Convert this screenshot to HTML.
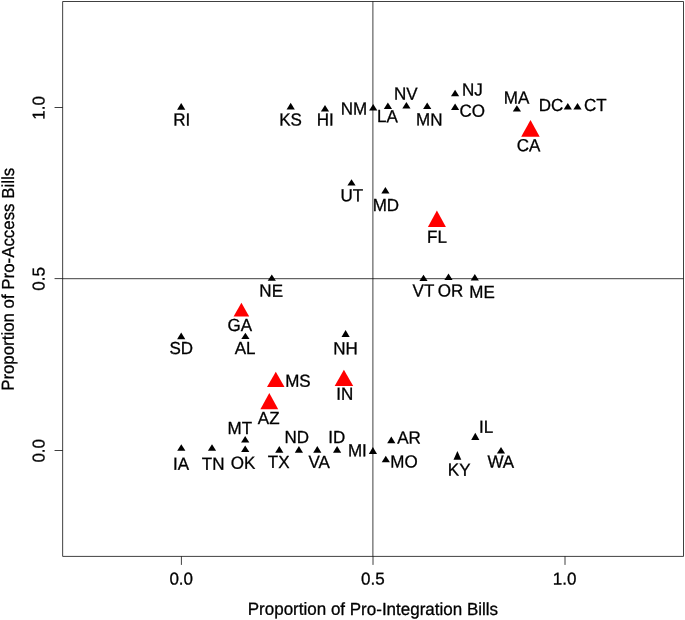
<!DOCTYPE html>
<html><head><meta charset="utf-8"><title>Plot</title>
<style>html,body{margin:0;padding:0;background:#fff}svg{display:block}text{font-family:"Liberation Sans",sans-serif;font-size:17.0px;fill:#000;stroke:#000;stroke-width:0.3px;stroke-linejoin:round}</style></head>
<body>
<svg width="685" height="620" viewBox="0 0 685 620">
<rect x="0" y="0" width="685" height="620" fill="#fff"/>
<g stroke="#000" stroke-width="0.75" fill="none" stroke-linejoin="round" stroke-linecap="butt">
<rect x="62.65" y="1.5" width="620.85" height="554.9"/>
<line x1="62.65" y1="278.7" x2="683.5" y2="278.7"/>
<line x1="372.9" y1="1.5" x2="372.9" y2="556.4"/>
<line x1="181.4" y1="556.4" x2="181.4" y2="564.9"/>
<line x1="373.0" y1="556.4" x2="373.0" y2="564.9"/>
<line x1="565.0" y1="556.4" x2="565.0" y2="564.9"/>
<line x1="54.55" y1="107.5" x2="62.65" y2="107.5"/>
<line x1="54.55" y1="278.6" x2="62.65" y2="278.6"/>
<line x1="54.55" y1="450.5" x2="62.65" y2="450.5"/>
</g>
<g fill="#000">
<polygon points="181.2,103.1 185.3,109.8 177.1,109.8"/>
<polygon points="290.7,102.8 294.8,109.5 286.6,109.5"/>
<polygon points="325.0,105.1 329.1,111.5 320.9,111.5"/>
<polygon points="373.2,104.1 377.3,110.6 369.1,110.6"/>
<polygon points="387.9,102.6 392.0,108.9 383.8,108.9"/>
<polygon points="406.4,102.0 410.5,108.5 402.3,108.5"/>
<polygon points="427.2,102.4 431.3,108.9 423.1,108.9"/>
<polygon points="455.1,89.7 459.2,96.2 451.0,96.2"/>
<polygon points="455.1,103.4 459.2,109.9 451.0,109.9"/>
<polygon points="516.9,105.3 521.0,111.5 512.8,111.5"/>
<polygon points="567.8,103.1 571.9,109.4 563.7,109.4"/>
<polygon points="577.5,102.9 581.6,109.4 573.4,109.4"/>
<polygon points="351.5,179.2 355.6,185.6 347.4,185.6"/>
<polygon points="385.4,187.1 389.5,193.5 381.3,193.5"/>
<polygon points="271.8,274.5 275.9,280.8 267.7,280.8"/>
<polygon points="423.5,274.7 427.6,281.0 419.4,281.0"/>
<polygon points="448.5,273.4 452.6,280.0 444.4,280.0"/>
<polygon points="474.8,274.1 478.9,280.6 470.7,280.6"/>
<polygon points="181.2,332.6 185.3,339.3 177.1,339.3"/>
<polygon points="245.4,332.8 249.5,339.0 241.3,339.0"/>
<polygon points="345.6,330.1 349.7,337.0 341.5,337.0"/>
<polygon points="181.3,444.3 185.4,450.8 177.2,450.8"/>
<polygon points="212.0,444.3 216.1,450.8 207.9,450.8"/>
<polygon points="245.2,436.1 249.3,442.6 241.1,442.6"/>
<polygon points="245.2,445.4 249.3,451.9 241.1,451.9"/>
<polygon points="279.3,446.1 283.4,452.8 275.2,452.8"/>
<polygon points="298.9,446.1 303.0,452.8 294.8,452.8"/>
<polygon points="317.3,446.1 321.4,452.8 313.2,452.8"/>
<polygon points="337.1,446.1 341.2,452.8 333.0,452.8"/>
<polygon points="372.9,447.1 377.0,454.0 368.8,454.0"/>
<polygon points="391.3,436.6 395.4,443.2 387.2,443.2"/>
<polygon points="385.8,455.7 389.9,462.3 381.7,462.3"/>
<polygon points="475.3,432.7 479.4,440.0 471.2,440.0"/>
<polygon points="501.0,447.0 505.1,453.6 496.9,453.6"/>
<polygon points="457.4,451.0 461.3,459.8 453.5,459.8"/>
</g>
<g fill="#ff0000">
<polygon points="530.5,119.9 539.7,136.7 521.2,136.7"/>
<polygon points="436.9,210.6 445.9,226.9 427.9,226.9"/>
<polygon points="241.4,302.8 249.2,316.6 233.6,316.6"/>
<polygon points="275.8,371.8 284.5,387.1 267.0,387.1"/>
<polygon points="269.3,393.0 278.2,409.3 260.4,409.3"/>
<polygon points="343.9,369.8 353.2,386.0 334.7,386.0"/>
</g>
<g>
<text transform="translate(173.34,125.42) rotate(0.05) scale(1,1.03)">RI</text>
<text transform="translate(279.20,125.38) rotate(0.05) scale(1,1.03)">KS</text>
<text transform="translate(316.84,125.57) rotate(0.05) scale(1,1.03)">HI</text>
<text transform="translate(340.83,114.42) rotate(0.05) scale(1,1.03)">NM</text>
<text transform="translate(377.02,122.12) rotate(0.05) scale(1,1.03)">LA</text>
<text transform="translate(393.93,99.62) rotate(0.05) scale(1,1.03)">NV</text>
<text transform="translate(416.03,125.37) rotate(0.05) scale(1,1.03)">MN</text>
<text transform="translate(461.95,95.44) rotate(0.05) scale(1,1.03)">NJ</text>
<text transform="translate(459.38,116.78) rotate(0.05) scale(1,1.03)">CO</text>
<text transform="translate(503.82,103.57) rotate(0.05) scale(1,1.03)">MA</text>
<text transform="translate(538.70,110.98) rotate(0.05) scale(1,1.03)">DC</text>
<text transform="translate(583.98,110.98) rotate(0.05) scale(1,1.03)">CT</text>
<text transform="translate(516.78,151.28) rotate(0.05) scale(1,1.03)">CA</text>
<text transform="translate(340.51,201.34) rotate(0.05) scale(1,1.03)">UT</text>
<text transform="translate(372.64,210.97) rotate(0.05) scale(1,1.03)">MD</text>
<text transform="translate(427.07,242.82) rotate(0.05) scale(1,1.03)">FL</text>
<text transform="translate(259.36,296.62) rotate(0.05) scale(1,1.03)">NE</text>
<text transform="translate(412.60,296.42) rotate(0.05) scale(1,1.03)">VT</text>
<text transform="translate(437.84,296.38) rotate(0.05) scale(1,1.03)">OR</text>
<text transform="translate(469.37,297.87) rotate(0.05) scale(1,1.03)">ME</text>
<text transform="translate(227.46,330.98) rotate(0.05) scale(1,1.03)">GA</text>
<text transform="translate(169.46,353.98) rotate(0.05) scale(1,1.03)">SD</text>
<text transform="translate(234.77,353.97) rotate(0.05) scale(1,1.03)">AL</text>
<text transform="translate(333.32,354.17) rotate(0.05) scale(1,1.03)">NH</text>
<text transform="translate(285.14,386.63) rotate(0.05) scale(1,1.03)">MS</text>
<text transform="translate(336.16,399.82) rotate(0.05) scale(1,1.03)">IN</text>
<text transform="translate(257.84,424.07) rotate(0.05) scale(1,1.03)">AZ</text>
<text transform="translate(227.58,433.97) rotate(0.05) scale(1,1.03)">MT</text>
<text transform="translate(173.10,469.67) rotate(0.05) scale(1,1.03)">IA</text>
<text transform="translate(201.77,469.67) rotate(0.05) scale(1,1.03)">TN</text>
<text transform="translate(230.86,468.83) rotate(0.05) scale(1,1.03)">OK</text>
<text transform="translate(267.83,467.87) rotate(0.05) scale(1,1.03)">TX</text>
<text transform="translate(284.48,442.97) rotate(0.05) scale(1,1.03)">ND</text>
<text transform="translate(308.44,467.87) rotate(0.05) scale(1,1.03)">VA</text>
<text transform="translate(328.27,442.97) rotate(0.05) scale(1,1.03)">ID</text>
<text transform="translate(347.90,456.17) rotate(0.05) scale(1,1.03)">MI</text>
<text transform="translate(397.22,443.57) rotate(0.05) scale(1,1.03)">AR</text>
<text transform="translate(390.32,467.43) rotate(0.05) scale(1,1.03)">MO</text>
<text transform="translate(478.91,432.72) rotate(0.05) scale(1,1.03)">IL</text>
<text transform="translate(447.85,475.62) rotate(0.05) scale(1,1.03)">KY</text>
<text transform="translate(487.39,467.62) rotate(0.05) scale(1,1.03)">WA</text>
</g>
<text transform="translate(169.38,584.5) rotate(0.05) scale(1,1.01)">0.0</text>
<text transform="translate(361.01,584.5) rotate(0.05) scale(1,1.01)">0.5</text>
<text transform="translate(552.87,584.5) rotate(0.05) scale(1,1.01)">1.0</text>
<text transform="translate(44.4,462.62) rotate(-89.95) scale(1,1.01)">0.0</text>
<text transform="translate(44.4,290.69) rotate(-89.95) scale(1,1.01)">0.5</text>
<text transform="translate(44.4,119.73) rotate(-89.95) scale(1,1.01)">1.0</text>
<text transform="translate(247.76,614.8) rotate(0.05) scale(1,1.03)">Proportion of Pro-Integration Bills</text>
<text style="font-size:16.87px" transform="translate(13.8,390.86) rotate(-89.95) scale(1,1.03)">Proportion of Pro-Access Bills</text>
</svg>
</body></html>
